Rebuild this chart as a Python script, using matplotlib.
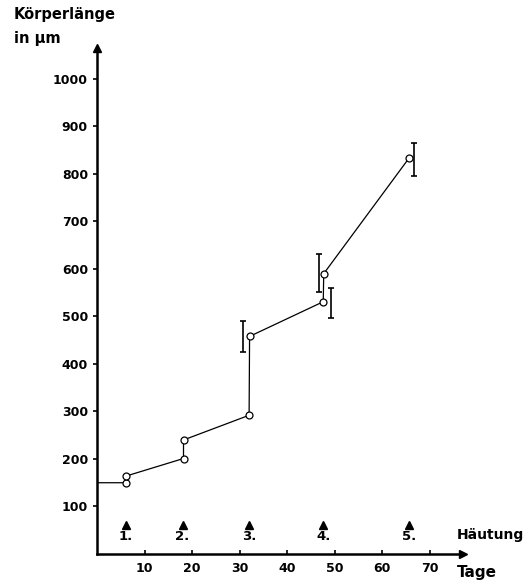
import numpy as np
import matplotlib
matplotlib.use("Agg")
import matplotlib.pyplot as plt

# Körperlänge über Tage, Linie mit Häutungssprüngen
days = [0, 6, 6.1, 18.2, 18.2, 32, 32.1, 47.6, 47.7, 65.7]
length = [150, 150, 164, 201, 240, 292, 458, 531, 590, 834]

# Streuung (Fehlerbalken), leicht neben den Punkten
err_days = [30.8, 46.7, 49.2, 66.7]
err_low = [425, 551, 497, 796]
err_high = [491, 631, 559, 866]

# Häutungen
molt_days = [6, 18, 32, 47.6, 65.7]
molt_labels = ['1.', '2.', '3.', '4.', '5.']

yticks = [100, 200, 300, 400, 500, 600, 700, 800, 900, 1000]
xticks = [10, 20, 30, 40, 50, 60, 70]

plt.rcParams['font.family'] = ['DejaVu Sans']
plt.rcParams['font.weight'] = 'bold'

fig = plt.figure(figsize=(5.28, 5.81), dpi=100)
ax = fig.add_axes([97 / 528, 27 / 581, 366 / 528, 506 / 581])

ax.plot(days, length, color='black', lw=0.9, zorder=2)
ax.plot(days[1:], length[1:], 'o', color='black', mfc='white', ms=5, mew=0.9, zorder=3)

err_mid = (np.array(err_low) + np.array(err_high)) / 2
err_half = (np.array(err_high) - np.array(err_low)) / 2
ax.errorbar(err_days, err_mid, yerr=err_half, fmt='none', ecolor='black',
            elinewidth=1.2, capsize=2, capthick=1.2)

ax.plot(molt_days, [62] * len(molt_days), '^', color='black', ms=6)
for d, lab in zip(molt_days, molt_labels):
    ax.text(d, 37, lab, ha='center', va='center', fontsize=9.5, fontweight='bold')

ax.set_xlim(0, 77)
ax.set_ylim(0, 1065)
ax.set_xticks(xticks)
ax.set_yticks(yticks)
ax.tick_params(axis='both', labelsize=9, length=3, width=1.2, direction='out')
ax.tick_params(axis='x', direction='in', pad=6)
for lab in ax.get_xticklabels() + ax.get_yticklabels():
    lab.set_fontweight('bold')

for s in ['top', 'right']:
    ax.spines[s].set_visible(False)
for s in ['left', 'bottom']:
    ax.spines[s].set_linewidth(1.8)

# Pfeilspitzen an den Achsen
ax.plot(1, 0, '>k', ms=6, transform=ax.transAxes, clip_on=False)
ax.plot(0, 1, '^k', ms=6, transform=ax.transAxes, clip_on=False)

ax.text(75.6, 40, 'Häutung', ha='left', va='center', fontsize=10, fontweight='bold', clip_on=False)
ax.text(75.8, -38, 'Tage', ha='left', va='center', fontsize=11, fontweight='bold', clip_on=False)

fig.text(14 / 528, 1 - 7 / 581, 'Körperlänge\nin µm', ha='left', va='top',
         fontsize=10.5, fontweight='bold', linespacing=1.75)

fig.savefig('out.png', dpi=100)
